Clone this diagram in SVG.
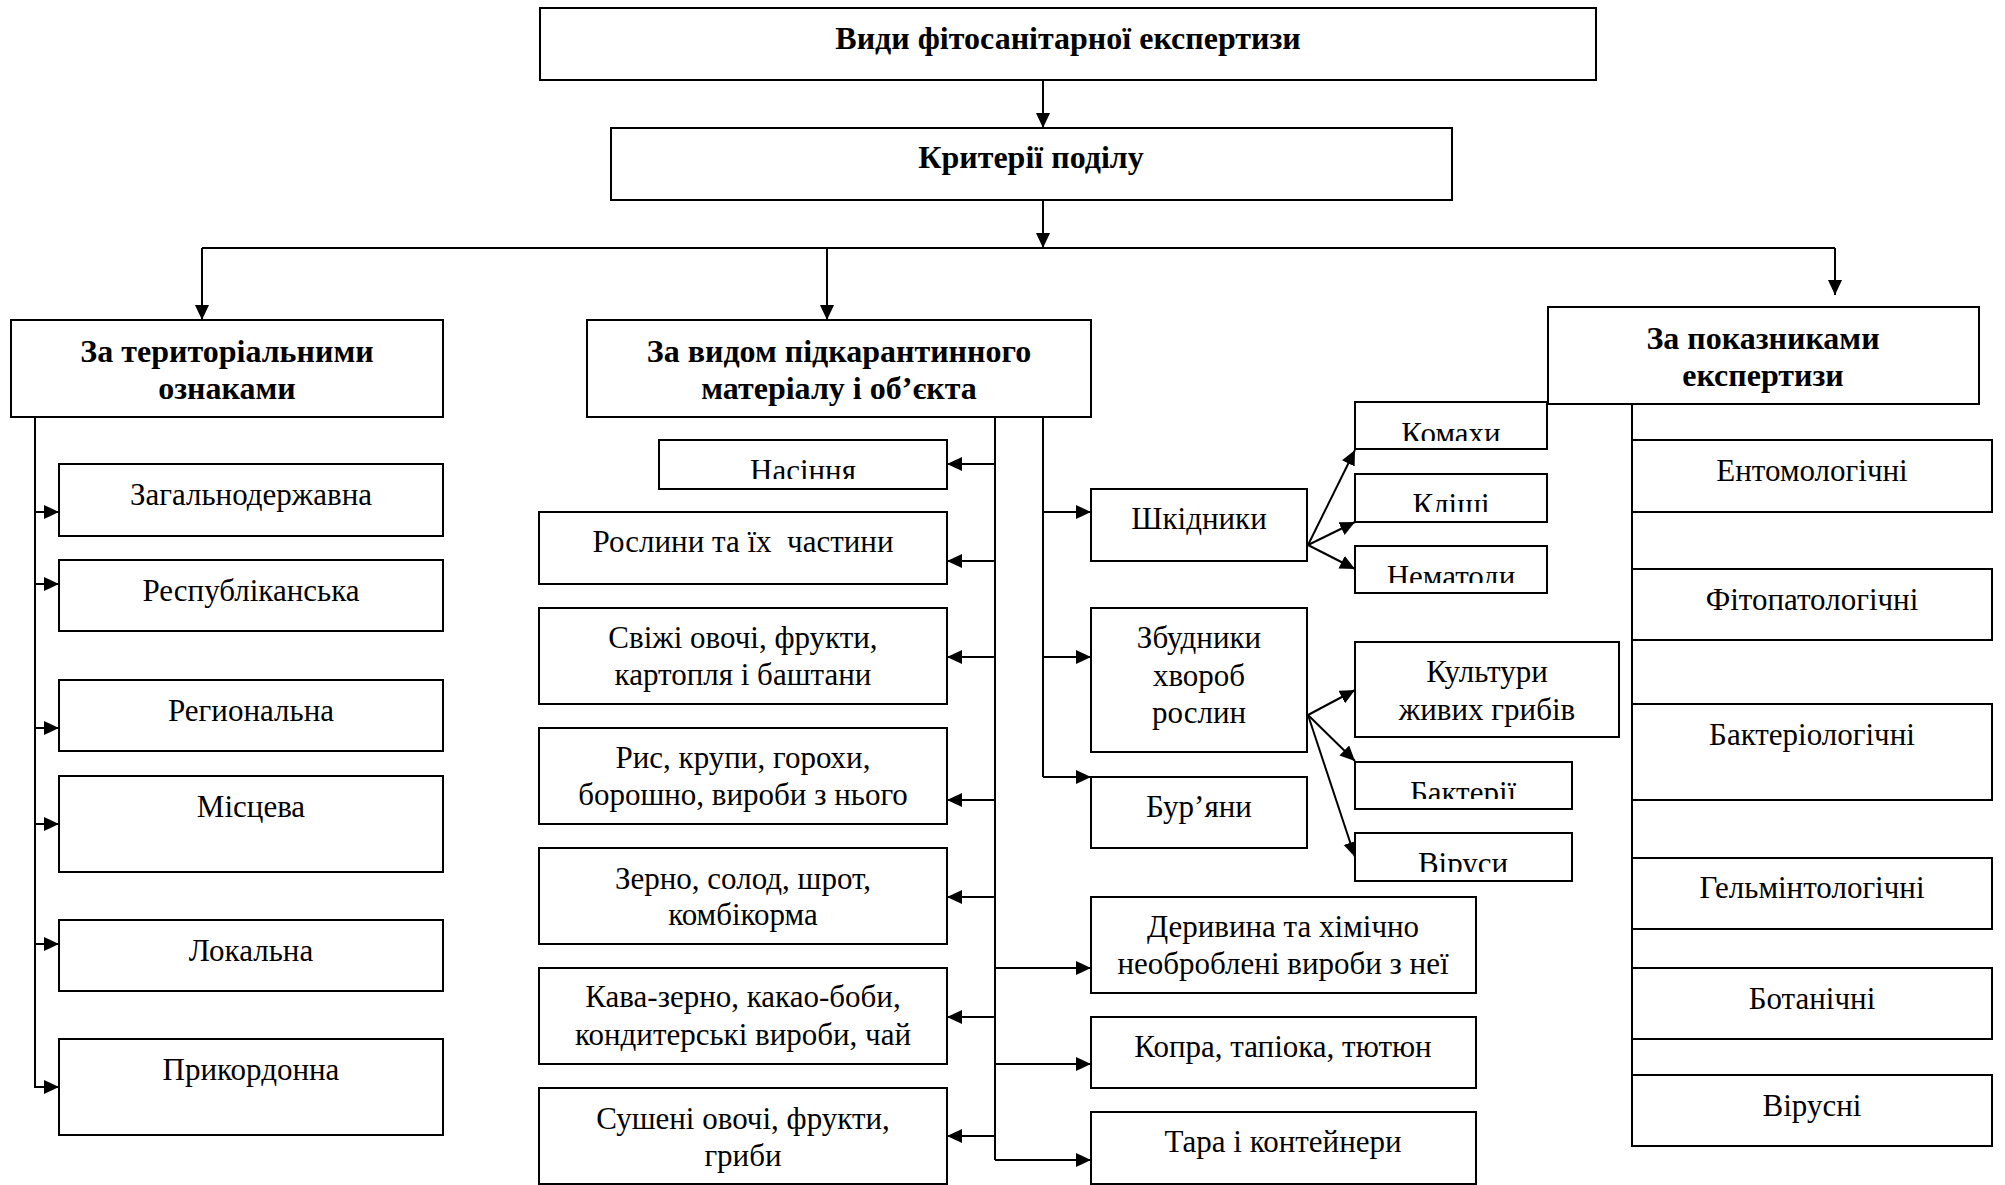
<svg xmlns="http://www.w3.org/2000/svg" width="2005" height="1185" viewBox="0 0 2005 1185">
  <style>
    .box { fill: #fff; stroke: #000; stroke-width: 2; }
    .ln { fill: none; stroke: #000; stroke-width: 2; }
    .arr { marker-end: url(#ah); }
    text { font-family: "Liberation Serif", "Times New Roman", serif; font-size: 31px; text-anchor: middle; fill: #000; }
    .b { font-weight: bold; font-size: 32px; }
  </style>
  <defs>
    <marker id="ah" markerUnits="userSpaceOnUse" markerWidth="16" markerHeight="15" refX="15" refY="7" orient="auto">
      <path d="M0,0 L15,7 L0,14 z" fill="#000"/>
    </marker>
    <!-- text frames of the short boxes cut the lower part of the words -->
    <clipPath id="clip-nasinnia"><rect x="659" y="440" width="288" height="39"/></clipPath>
    <clipPath id="clip-komakhy"><rect x="1355" y="402" width="192" height="39"/></clipPath>
    <clipPath id="clip-klishchi"><rect x="1355" y="474" width="192" height="38"/></clipPath>
    <clipPath id="clip-nematody"><rect x="1355" y="546" width="192" height="37"/></clipPath>
    <clipPath id="clip-bakterii"><rect x="1355" y="762" width="217" height="37"/></clipPath>
    <clipPath id="clip-virusy"><rect x="1355" y="833" width="217" height="39"/></clipPath>
  </defs>
  <rect width="2005" height="1185" fill="#fff"/>

  <!-- connectors -->
  <g id="connectors">
    <line class="ln arr" x1="1043" y1="80" x2="1043" y2="128"/>
    <line class="ln arr" x1="1043" y1="200" x2="1043" y2="248"/>
    <line class="ln" x1="202" y1="248" x2="1835" y2="248"/>
    <line class="ln arr" x1="202" y1="248" x2="202" y2="320"/>
    <line class="ln arr" x1="827" y1="248" x2="827" y2="320"/>
    <line class="ln arr" x1="1835" y1="248" x2="1835" y2="295"/>

    <!-- territorial branch -->
    <line class="ln" x1="35" y1="417" x2="35" y2="1088"/>
    <line class="ln arr" x1="35" y1="512" x2="59" y2="512"/>
    <line class="ln arr" x1="35" y1="584" x2="59" y2="584"/>
    <line class="ln arr" x1="35" y1="728" x2="59" y2="728"/>
    <line class="ln arr" x1="35" y1="824" x2="59" y2="824"/>
    <line class="ln arr" x1="35" y1="944" x2="59" y2="944"/>
    <line class="ln arr" x1="35" y1="1087" x2="59" y2="1087"/>

    <!-- material branch -->
    <line class="ln" x1="995" y1="417" x2="995" y2="1160"/>
    <line class="ln" x1="1043" y1="417" x2="1043" y2="777"/>
    <line class="ln arr" x1="995" y1="464" x2="947" y2="464"/>
    <line class="ln arr" x1="995" y1="561" x2="947" y2="561"/>
    <line class="ln arr" x1="995" y1="657" x2="947" y2="657"/>
    <line class="ln arr" x1="995" y1="800" x2="947" y2="800"/>
    <line class="ln arr" x1="995" y1="897" x2="947" y2="897"/>
    <line class="ln arr" x1="995" y1="1017" x2="947" y2="1017"/>
    <line class="ln arr" x1="995" y1="1136" x2="947" y2="1136"/>
    <line class="ln arr" x1="1043" y1="512" x2="1091" y2="512"/>
    <line class="ln arr" x1="1043" y1="657" x2="1091" y2="657"/>
    <line class="ln arr" x1="1043" y1="777" x2="1091" y2="777"/>
    <line class="ln arr" x1="995" y1="968" x2="1091" y2="968"/>
    <line class="ln arr" x1="995" y1="1064" x2="1091" y2="1064"/>
    <line class="ln arr" x1="995" y1="1160" x2="1091" y2="1160"/>

    <!-- pests fan -->
    <line class="ln arr" x1="1308" y1="545" x2="1355" y2="450"/>
    <line class="ln arr" x1="1308" y1="545" x2="1355" y2="522"/>
    <line class="ln arr" x1="1308" y1="545" x2="1355" y2="569"/>
    <!-- pathogens fan -->
    <line class="ln arr" x1="1308" y1="715" x2="1355" y2="690"/>
    <line class="ln arr" x1="1308" y1="715" x2="1355" y2="761"/>
    <line class="ln arr" x1="1308" y1="715" x2="1355" y2="857"/>

    <!-- indicators branch -->
    <line class="ln" x1="1632" y1="404" x2="1632" y2="1146"/>
  </g>

  <!-- top levels -->
  <g id="n-vydy">
    <rect class="box" x="540" y="8" width="1056" height="72"/>
    <text class="b" x="1068" y="49">Види фітосанітарної експертизи</text>
  </g>
  <g id="n-kryterii">
    <rect class="box" x="611" y="128" width="841" height="72"/>
    <text class="b" x="1031" y="168">Критерії поділу</text>
  </g>
  <g id="n-terytorialni">
    <rect class="box" x="11" y="320" width="432" height="97"/>
    <text class="b" x="227" y="362">За територіальними</text>
    <text class="b" x="227" y="399">ознаками</text>
  </g>
  <g id="n-material">
    <rect class="box" x="587" y="320" width="504" height="97"/>
    <text class="b" x="839" y="362">За видом підкарантинного</text>
    <text class="b" x="839" y="399">матеріалу і об’єкта</text>
  </g>
  <g id="n-pokaznyky">
    <rect class="box" x="1548" y="307" width="431" height="97"/>
    <text class="b" x="1763" y="349">За показниками</text>
    <text class="b" x="1763" y="386">експертизи</text>
  </g>

  <!-- territorial levels -->
  <g id="n-zahalnoderzhavna">
    <rect class="box" x="59" y="464" width="384" height="72"/>
    <text x="251" y="505">Загальнодержавна</text>
  </g>
  <g id="n-respublikanska">
    <rect class="box" x="59" y="560" width="384" height="71"/>
    <text x="251" y="601">Республіканська</text>
  </g>
  <g id="n-rehionalna">
    <rect class="box" x="59" y="680" width="384" height="71"/>
    <text x="251" y="721">Региональна</text>
  </g>
  <g id="n-mistseva">
    <rect class="box" x="59" y="776" width="384" height="96"/>
    <text x="251" y="817">Місцева</text>
  </g>
  <g id="n-lokalna">
    <rect class="box" x="59" y="920" width="384" height="71"/>
    <text x="251" y="961">Локальна</text>
  </g>
  <g id="n-prykordonna">
    <rect class="box" x="59" y="1039" width="384" height="96"/>
    <text x="251" y="1080">Прикордонна</text>
  </g>

  <!-- regulated materials -->
  <g id="n-nasinnia">
    <rect class="box" x="659" y="440" width="288" height="49"/>
    <text x="803" y="481" clip-path="url(#clip-nasinnia)">Насіння</text>
  </g>
  <g id="n-roslyny">
    <rect class="box" x="539" y="512" width="408" height="72"/>
    <text x="743" y="552" xml:space="preserve">Рослини та їх  частини</text>
  </g>
  <g id="n-svizhi">
    <rect class="box" x="539" y="608" width="408" height="96"/>
    <text x="743" y="648">Свіжі овочі, фрукти,</text>
    <text x="743" y="685">картопля і баштани</text>
  </g>
  <g id="n-rys">
    <rect class="box" x="539" y="728" width="408" height="96"/>
    <text x="743" y="768">Рис, крупи, горохи,</text>
    <text x="743" y="805">борошно, вироби з нього</text>
  </g>
  <g id="n-zerno">
    <rect class="box" x="539" y="848" width="408" height="96"/>
    <text x="743" y="889">Зерно, солод, шрот,</text>
    <text x="743" y="925">комбікорма</text>
  </g>
  <g id="n-kava">
    <rect class="box" x="539" y="968" width="408" height="96"/>
    <text x="743" y="1007">Кава-зерно, какао-боби,</text>
    <text x="743" y="1045">кондитерські вироби, чай</text>
  </g>
  <g id="n-susheni">
    <rect class="box" x="539" y="1088" width="408" height="96"/>
    <text x="743" y="1129">Сушені овочі, фрукти,</text>
    <text x="743" y="1166">гриби</text>
  </g>

  <g id="n-shkidnyky">
    <rect class="box" x="1091" y="489" width="216" height="72"/>
    <text x="1199" y="529">Шкідники</text>
  </g>
  <g id="n-zbudnyky">
    <rect class="box" x="1091" y="608" width="216" height="144"/>
    <text x="1199" y="648">Збудники</text>
    <text x="1199" y="686">хвороб</text>
    <text x="1199" y="723">рослин</text>
  </g>
  <g id="n-burjany">
    <rect class="box" x="1091" y="777" width="216" height="71"/>
    <text x="1199" y="817">Бур’яни</text>
  </g>
  <g id="n-deryvyna">
    <rect class="box" x="1091" y="897" width="385" height="96"/>
    <text x="1283" y="937">Деривина та хімічно</text>
    <text x="1283" y="974">необроблені вироби з неї</text>
  </g>
  <g id="n-kopra">
    <rect class="box" x="1091" y="1017" width="385" height="71"/>
    <text x="1283" y="1057">Копра, тапіока, тютюн</text>
  </g>
  <g id="n-tara">
    <rect class="box" x="1091" y="1112" width="385" height="72"/>
    <text x="1283" y="1152">Тара і контейнери</text>
  </g>

  <!-- pests and pathogens -->
  <g id="n-komakhy">
    <rect class="box" x="1355" y="402" width="192" height="47"/>
    <text x="1451" y="444" clip-path="url(#clip-komakhy)">Комахи</text>
  </g>
  <g id="n-klishchi">
    <rect class="box" x="1355" y="474" width="192" height="48"/>
    <text x="1451" y="515" clip-path="url(#clip-klishchi)">Кліщі</text>
  </g>
  <g id="n-nematody">
    <rect class="box" x="1355" y="546" width="192" height="47"/>
    <text x="1451" y="587" clip-path="url(#clip-nematody)">Нематоди</text>
  </g>
  <g id="n-kultury">
    <rect class="box" x="1355" y="642" width="264" height="95"/>
    <text x="1487" y="682">Культури</text>
    <text x="1487" y="720">живих грибів</text>
  </g>
  <g id="n-bakterii">
    <rect class="box" x="1355" y="762" width="217" height="47"/>
    <text x="1463" y="803" clip-path="url(#clip-bakterii)">Бактерії</text>
  </g>
  <g id="n-virusy">
    <rect class="box" x="1355" y="833" width="217" height="48"/>
    <text x="1463" y="874" clip-path="url(#clip-virusy)">Віруси</text>
  </g>

  <!-- kinds by indicators -->
  <g id="n-entomolohichni">
    <rect class="box" x="1632" y="440" width="360" height="72"/>
    <text x="1812" y="481">Ентомологічні</text>
  </g>
  <g id="n-fitopatolohichni">
    <rect class="box" x="1632" y="569" width="360" height="71"/>
    <text x="1812" y="610">Фітопатологічні</text>
  </g>
  <g id="n-bakteriolohichni">
    <rect class="box" x="1632" y="704" width="360" height="96"/>
    <text x="1812" y="745">Бактеріологічні</text>
  </g>
  <g id="n-helmintolohichni">
    <rect class="box" x="1632" y="858" width="360" height="71"/>
    <text x="1812" y="898">Гельмінтологічні</text>
  </g>
  <g id="n-botanichni">
    <rect class="box" x="1632" y="968" width="360" height="71"/>
    <text x="1812" y="1009">Ботанічні</text>
  </g>
  <g id="n-virusni">
    <rect class="box" x="1632" y="1075" width="360" height="71"/>
    <text x="1812" y="1116">Вірусні</text>
  </g>
</svg>
